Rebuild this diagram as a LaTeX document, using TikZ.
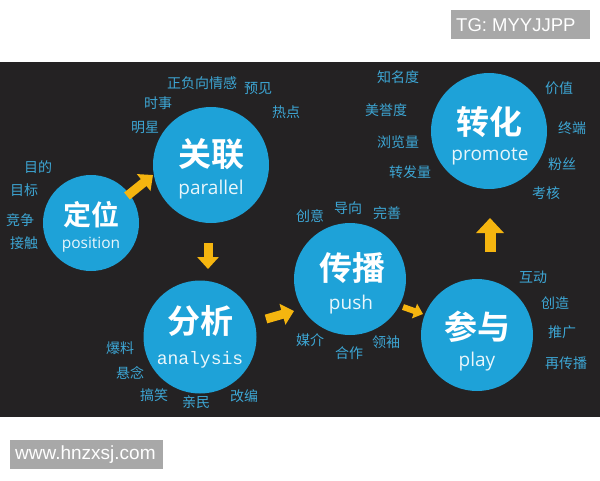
\documentclass[tikz,border=0pt]{standalone}
\usepackage{fontspec}
\setmainfont{Open Sans}
\newfontfamily\cjk{Noto Sans CJK SC}[BoldFont={Noto Sans CJK SC Bold}]
\newfontfamily\monofnt{Liberation Mono}
\newfontfamily\arialfnt{Liberation Sans}
\usetikzlibrary{arrows.meta}
\definecolor{bgdark}{HTML}{242223}
\definecolor{circblue}{HTML}{1EA2D8}
\definecolor{lblblue}{HTML}{3DA6D4}
\definecolor{arrowyel}{HTML}{F5B50F}
\definecolor{tagGray}{HTML}{A8A8A8}
\begin{document}
\begin{tikzpicture}[x=1pt,y=-1pt,
  circ/.style={circle,fill=circblue,inner sep=0pt,minimum size=#1},
  ttl/.style={text=white,font=\cjk\bfseries\fontsize{33}{33}\selectfont,inner sep=0pt},
  sub/.style={text=white!90!circblue,font=\fontsize{19}{19}\selectfont,inner sep=0pt},
  lbl/.style={text=lblblue,font=\cjk\fontsize{14}{14}\selectfont,inner sep=0pt},
  barrow/.style={draw=arrowyel,line width=9pt,-{Triangle[length=12pt,width=21pt]}},
  tagbox/.style={fill=tagGray,inner sep=0pt,anchor=north west},
  tagtxt/.style={text=white,font=\arialfnt\fontsize{18.5}{18.5}\selectfont,inner sep=0pt,anchor=west}
]
\useasboundingbox (0,0) rectangle (600,480);
\fill[white] (0,0) rectangle (600,480);
\fill[bgdark] (0,62) rectangle (600,417);

% tags
\node[tagbox,minimum width=139pt,minimum height=29pt] (tg) at (451,10) {};
\node[tagtxt] (tgt) at (456,25) {TG: MYYJJPP};
\node[tagbox,minimum width=153pt,minimum height=29pt] (www) at (10,440) {};
\node[tagtxt,font=\arialfnt\fontsize{19}{19}\selectfont] (wwwt) at (15,455) {www.hnzxsj.com};

% circles
\node[circ=96pt] (dw) at (91,223) {};
\node[circ=116pt] (gl) at (211,165) {};
\node[circ=113pt] (fx) at (200,337) {};
\node[circ=112pt] (cb) at (350,279) {};
\node[circ=112pt] (cy) at (477,335) {};
\node[circ=116pt] (zh) at (489,131) {};

% titles
\node[ttl,font=\cjk\bfseries\fontsize{28}{28}\selectfont] (dwt) at (91,215) {定位};
\node[sub,font=\fontsize{15.5}{15.5}\selectfont] (dws) at (91,245) {position};
\node[ttl] (glt) at (211,154) {关联};
\node[sub] (gls) at (211,190) {parallel};
\node[ttl] (fxt) at (200,321) {分析};
\node[sub,font=\monofnt\fontsize{18}{18}\selectfont] (fxs) at (200,360) {analysis};
\node[ttl] (cbt) at (352,268) {传播};
\node[sub] (cbs) at (351,305) {push};
\node[ttl] (cyt) at (477,327) {参与};
\node[sub] (cys) at (477,362) {play};
\node[ttl] (zht) at (489,122) {转化};
\node[sub] (zhs) at (490,157) {promote};

% arrows
\coordinate (a1s) at (127,196); \coordinate (a1e) at (153,175);
\coordinate (a2s) at (208,243); \coordinate (a2e) at (208,269);
\coordinate (a3s) at (266,319); \coordinate (a3e) at (294,311);
\coordinate (a4s) at (403,307); \coordinate (a4e) at (423,314);
\coordinate (a5s) at (490,252); \coordinate (a5e) at (490,218);
\draw[barrow] (a1s) -- (a1e);
\draw[barrow] (a2s) -- (a2e);
\draw[barrow] (a3s) -- (a3e);
\draw[draw=arrowyel,line width=6pt,-{Triangle[length=9pt,width=15pt]}] (a4s) -- (a4e);
\draw[draw=arrowyel,line width=11pt,-{Triangle[length=15pt,width=27pt]}] (a5s) -- (a5e);

% labels
\node[lbl] (l1) at (202,83) {正负向情感};
\node[lbl] (l2) at (258,88) {预见};
\node[lbl] (l3) at (158,103) {时事};
\node[lbl] (l4) at (286,112) {热点};
\node[lbl] (l5) at (145,128) {明星};
\node[lbl] (l6) at (38,167) {目的};
\node[lbl] (l7) at (24,190) {目标};
\node[lbl] (l8) at (20,220) {竞争};
\node[lbl] (l9) at (24,243) {接触};
\node[lbl] (l10) at (398,77) {知名度};
\node[lbl] (l11) at (386,110) {美誉度};
\node[lbl] (l12) at (398,142) {浏览量};
\node[lbl] (l13) at (410,172) {转发量};
\node[lbl] (l14) at (559,88) {价值};
\node[lbl] (l15) at (572,128) {终端};
\node[lbl] (l16) at (562,164) {粉丝};
\node[lbl] (l17) at (546,193) {考核};
\node[lbl] (l18) at (310,216) {创意};
\node[lbl] (l19) at (348,208) {导向};
\node[lbl] (l20) at (387,213) {完善};
\node[lbl] (l21) at (120,348) {爆料};
\node[lbl] (l22) at (130,373) {悬念};
\node[lbl] (l23) at (154,395) {搞笑};
\node[lbl] (l24) at (196,402) {亲民};
\node[lbl] (l25) at (244,396) {改编};
\node[lbl] (l26) at (310,340) {媒介};
\node[lbl] (l27) at (349,353) {合作};
\node[lbl] (l28) at (386,342) {领袖};
\node[lbl] (l29) at (533,277) {互动};
\node[lbl] (l30) at (555,303) {创造};
\node[lbl] (l31) at (562,332) {推广};
\node[lbl] (l32) at (566,363) {再传播};
\end{tikzpicture}
\end{document}
